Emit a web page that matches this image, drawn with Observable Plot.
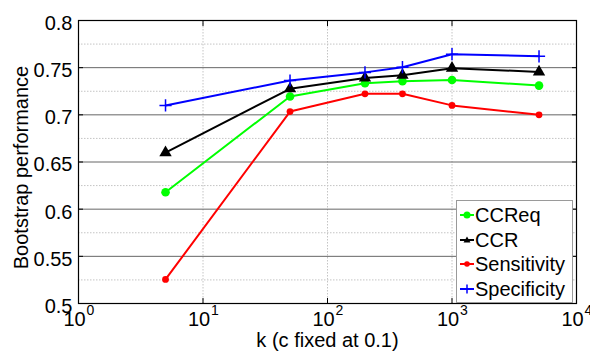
<!DOCTYPE html>
<html>
<head>
<meta charset="utf-8">
<script src="https://cdn.jsdelivr.net/npm/d3@7"></script>
<script src="https://cdn.jsdelivr.net/npm/@observablehq/plot@0.6"></script>
<style>
  body { margin: 0; background: #fff; font-family: "Liberation Sans", Arial, sans-serif; }
  #wrap { position: relative; width: 590px; height: 354px; }
  #legend { position: absolute; left: 456px; top: 200px; width: 117px; height: 103px; background: #fff;
    border: 1px solid #9a9a9a; box-sizing: border-box; font-size: 20px; color: #000; padding-top: 2px; }
  #legend .row { height: 24.5px; line-height: 24.5px; display: flex; align-items: center; white-space: nowrap; }
  #legend svg { flex: none; margin-left: 3px; margin-right: 1px; }
</style>
</head>
<body>
<div id="wrap"></div>
<script>
// ---- data ----
const kValues = [5, 50, 200, 400, 1000, 5000];
const seriesNames = ["CCReq", "CCR", "Sensitivity", "Specificity"];
const ccreq = [0.618, 0.7195, 0.7335, 0.7357, 0.737, 0.731];
const ccr = [0.660, 0.7276, 0.739, 0.742, 0.7494, 0.7455];
const sensitivity = [0.5255, 0.7035, 0.7223, 0.7223, 0.710, 0.700];
const specificity = [0.710, 0.7364, 0.745, 0.7505, 0.7643, 0.762];
const xTicks = [1, 10, 100, 1000, 10000];
const xTickBase = ["10", "10", "10", "10", "10"];
const xTickExp = ["0", "1", "2", "3", "4"];
const yTicks = [0.5, 0.55, 0.6, 0.65, 0.7, 0.75, 0.8];
const yTickLabels = ["0.5", "0.55", "0.6", "0.65", "0.7", "0.75", "0.8"];
const yMinor = [0.525, 0.575, 0.625, 0.675, 0.725, 0.775];
const yMajorGrid = [0.55, 0.6, 0.65, 0.7, 0.75];
const xGrid = [10, 100, 1000];
const xLabel = "k (c fixed at 0.1)";
const yLabel = "Bootstrap performance";

const colors = {CCReq: "#00ff00", CCR: "#000000", Sensitivity: "#ff0000", Specificity: "#0000ff"};
const valuesBySeries = {CCReq: ccreq, CCR: ccr, Sensitivity: sensitivity, Specificity: specificity};
const rows = seriesNames.flatMap(s => kValues.map((k, i) => ({series: s, k, v: valuesBySeries[s][i]})));
const of = s => rows.filter(d => d.series === s);

const font = "'Liberation Sans', Arial, sans-serif";
const marks = [
  Plot.ruleY(yMinor, {stroke: "#c4c4c4", strokeDasharray: "1.5,1.5", strokeWidth: 1}),
  Plot.ruleX(xGrid, {stroke: "#c4c4c4", strokeDasharray: "1.5,1.5", strokeWidth: 1}),
  Plot.ruleY(yMajorGrid, {stroke: "#666", strokeWidth: 1}),
  // inward tick marks (MATLAB box style)
  Plot.axisX(xTicks, {anchor: "top", tickSize: -5, text: null, label: null, stroke: "#000"}),
  Plot.axisX(xTicks, {anchor: "bottom", tickSize: -5, text: null, label: null, stroke: "#000"}),
  Plot.axisY(yTicks, {anchor: "left", tickSize: -5, text: null, label: null, stroke: "#000"}),
  Plot.axisY(yTicks, {anchor: "right", tickSize: -5, text: null, label: null, stroke: "#000"}),
];
for (const s of seriesNames) {
  marks.push(Plot.line(of(s), {x: "k", y: "v", stroke: colors[s], strokeWidth: 2}));
}
marks.push(
  Plot.dot(of("CCReq"), {x: "k", y: "v", fill: colors.CCReq, r: 4.3}),
  Plot.dot(of("CCR"), {x: "k", y: "v", fill: colors.CCR, symbol: "triangle", r: 4.6}),
  Plot.dot(of("Sensitivity"), {x: "k", y: "v", fill: colors.Sensitivity, r: 3.4}),
  Plot.dot(of("Specificity"), {x: "k", y: "v", stroke: colors.Specificity, symbol: "plus", r: 4, strokeWidth: 1.5}),
  Plot.frame({stroke: "#000", strokeWidth: 1.2}),
  // x tick labels with superscript exponents
  Plot.text(xTicks, {x: d => d, frameAnchor: "bottom", text: (d, i) => xTickBase[i], dy: 22, dx: -4, fontSize: 20, fill: "#000"}),
  Plot.text(xTicks, {x: d => d, frameAnchor: "bottom", text: (d, i) => xTickExp[i], dy: 11.5, dx: 12, fontSize: 14, fill: "#000"}),
  // y tick labels
  Plot.text(yTicks, {y: d => d, frameAnchor: "left", textAnchor: "end", text: (d, i) => yTickLabels[i], dx: -6, dy: 3, fontSize: 20, fill: "#000"}),
  // axis labels
  Plot.text([xLabel], {frameAnchor: "bottom", textAnchor: "middle", text: d => d, dy: 43, fontSize: 20, fill: "#000"}),
  Plot.text([yLabel], {frameAnchor: "left", textAnchor: "middle", rotate: -90, text: d => d, dx: -57, dy: 5.5, fontSize: 20, fill: "#000"})
);

const chart = Plot.plot({
  width: 590,
  height: 354,
  marginLeft: 78,
  marginRight: 14,
  marginTop: 20,
  marginBottom: 51,
  style: {fontFamily: font, background: "#fff", color: "#000", overflow: "visible"},
  x: {type: "log", domain: [1, 10000], axis: null},
  y: {domain: [0.5, 0.8], axis: null},
  marks
});
document.getElementById("wrap").appendChild(chart);

// legend overlay
const legend = document.createElement("div");
legend.id = "legend";
const icon = {
  CCReq: `<circle cx="7" cy="7" r="3.5" fill="${colors.CCReq}"/>`,
  CCR: `<path d="M7,3.5 L10.5,9.5 L3.5,9.5 Z" fill="${colors.CCR}"/>`,
  Sensitivity: `<circle cx="7" cy="7" r="2.8" fill="${colors.Sensitivity}"/>`,
  Specificity: `<path d="M7,2.5 V11.5 M2.5,7 H11.5" stroke="${colors.Specificity}" stroke-width="1.5"/>`
};
for (const s of seriesNames) {
  const row = document.createElement("div");
  row.className = "row";
  row.innerHTML = `<svg width="14" height="14"><line x1="0" x2="14" y1="7" y2="7" stroke="${colors[s]}" stroke-width="2"/>${icon[s]}</svg><span>${s}</span>`;
  legend.appendChild(row);
}
document.getElementById("wrap").appendChild(legend);
</script>
</body>
</html>
